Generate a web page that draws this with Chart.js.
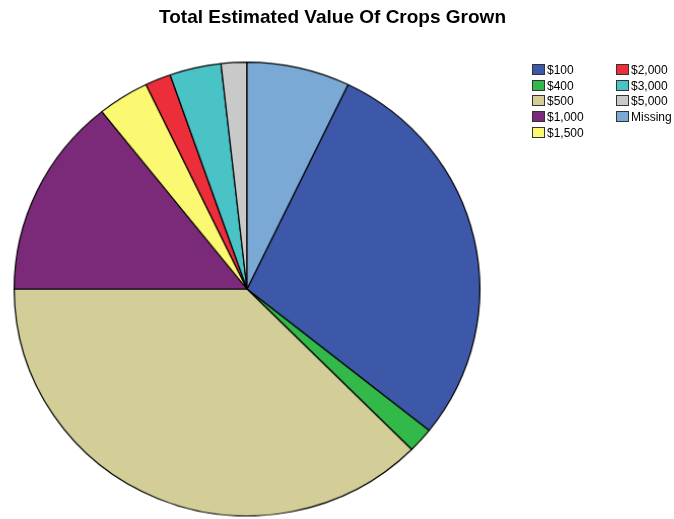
<!DOCTYPE html>
<html>
<head>
<meta charset="utf-8">
<script src="https://cdn.jsdelivr.net/npm/chart.js@4.4.0/dist/chart.umd.min.js"></script>
<style>
  body { margin: 0; background: #fff; }
  #wrap { position: relative; width: 674px; height: 519px; overflow: hidden; }
  /* the original pie is a touch wider than tall */
  #pie { transform-origin: 247px 289px; transform: scale(1.015, 0.989); }
  #title {
    position: absolute; left: 0; top: 7px; width: 665px; text-align: center;
    font: bold 19px "Liberation Sans", Arial, sans-serif; line-height: 19px; color: #000;
  }
  #legend { position: absolute; left: 0; top: 0; }
  .item {
    position: absolute; font: 12px "Liberation Sans", Arial, sans-serif; color: #000;
    white-space: nowrap; line-height: 12px;
  }
  .sw {
    display: inline-block; width: 11px; height: 9px; border: 1px solid #333;
    vertical-align: top; margin-right: 2px; margin-top: 0px;
  }
</style>
</head>
<body>
<div id="wrap">
  <canvas id="pie" width="674" height="519"></canvas>
  <div id="title">Total Estimated Value Of Crops Grown</div>
  <div id="legend"></div>
</div>
<script>
// counts per category
const categories = ["$100", "$400", "$500", "$1,000", "$1,500", "$2,000", "$3,000", "$5,000", "Missing"];
const counts = [16, 1, 21, 8, 2, 1, 2, 1, 4];
const colors = ["#3d58a9", "#33b84a", "#d3ce97", "#7b2a7a", "#fbf871", "#ec2d3a", "#4ac3c7", "#c9c9c9", "#7ba9d5"];

const total = counts.reduce((a, b) => a + b, 0);
// Missing slice sits just right of 12 o'clock, so $100 starts after it
const startAngle = 360 * counts[counts.length - 1] / total;

const chart = new Chart(document.getElementById("pie"), {
  type: "pie",
  data: {
    labels: categories,
    datasets: [{
      data: counts,
      backgroundColor: colors,
      borderColor: "#000",
      borderWidth: 1.2,
    }],
  },
  options: {
    responsive: false,
    animation: false,
    rotation: startAngle,
    layout: { padding: { left: 15, right: 195, top: 59, bottom: 0 } },
    plugins: {
      legend: { display: false },
      tooltip: { enabled: false },
    },
  },
});

/************ LEGEND ************/
const legend = document.getElementById("legend");
categories.forEach((label, i) => {
  const col = i < 5 ? 0 : 1;
  const row = i < 5 ? i : i - 5;
  const div = document.createElement("div");
  div.className = "item";
  div.style.left = (532 + col * 84) + "px";
  div.style.top = (64 + row * 15.7) + "px";
  div.innerHTML = `<span class="sw" style="background:${chart.data.datasets[0].backgroundColor[i]}"></span>${label}`;
  legend.appendChild(div);
});
</script>
</body>
</html>
